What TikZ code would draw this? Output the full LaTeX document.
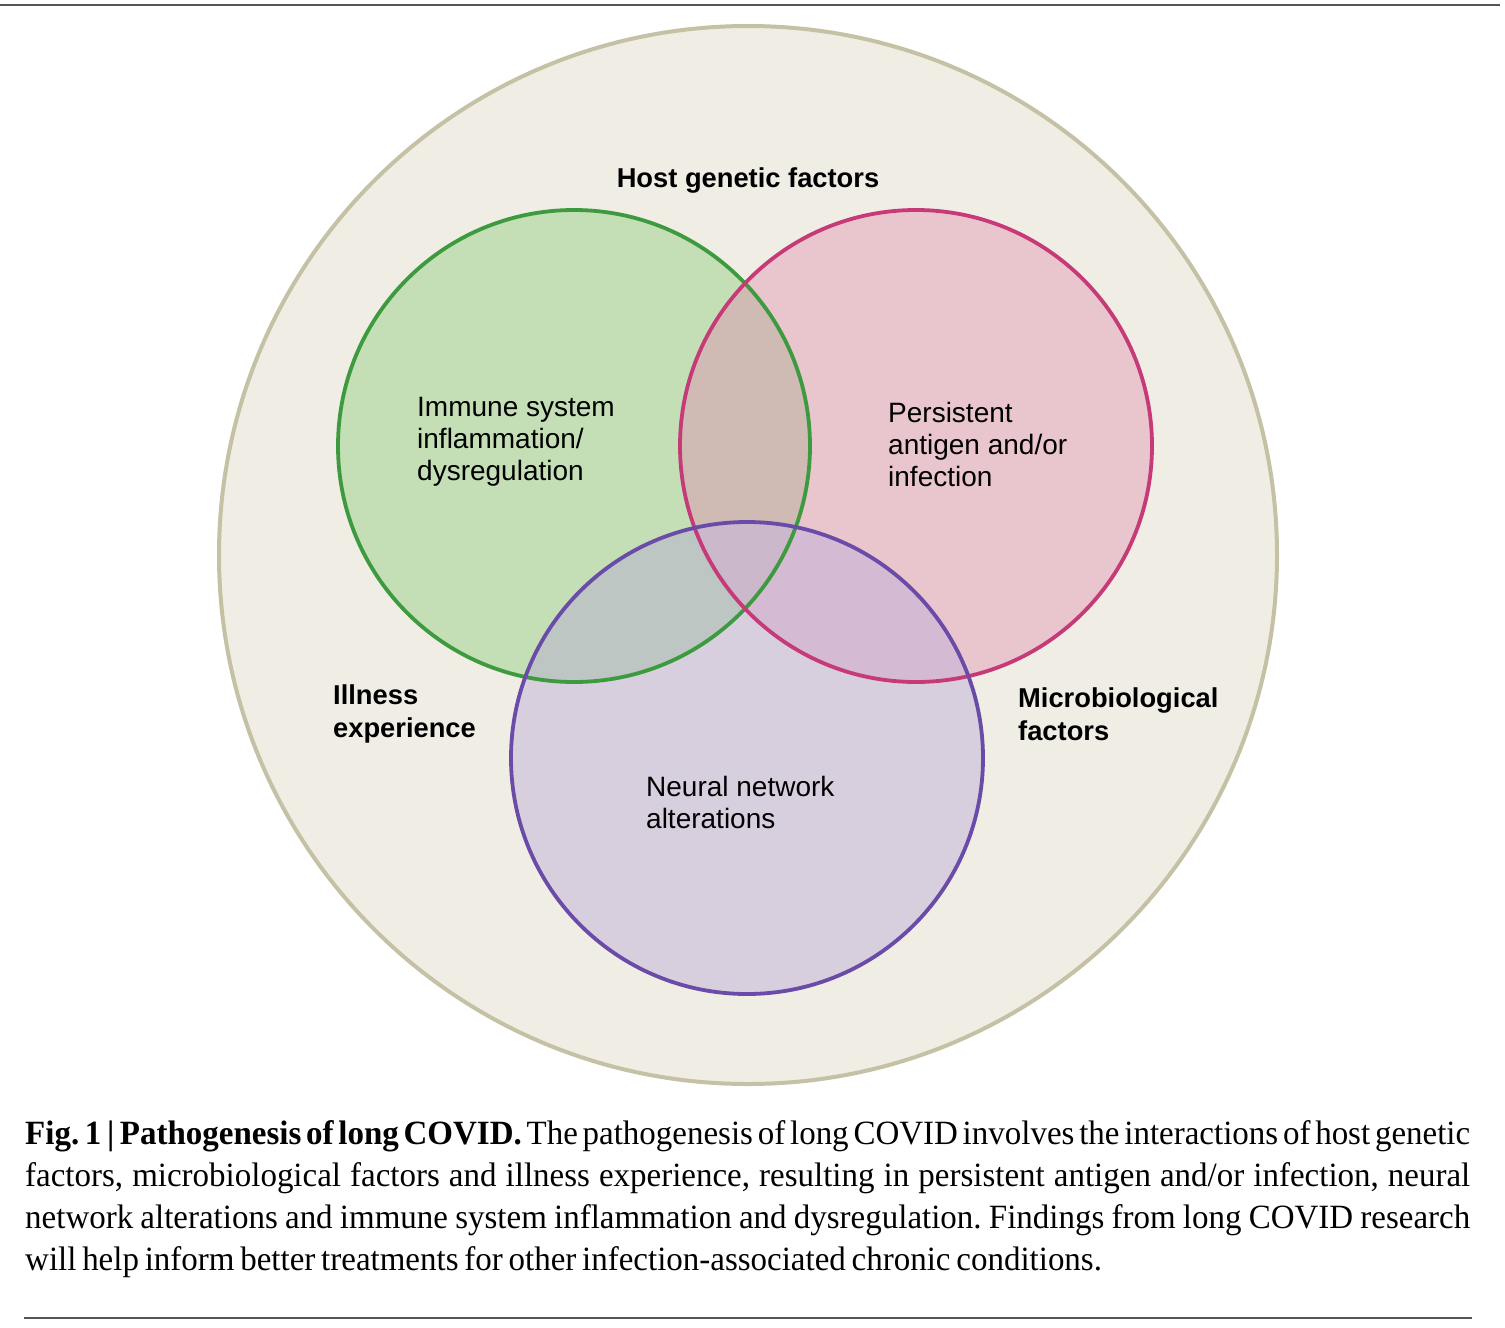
\documentclass[tikz,border=0pt]{standalone}
\usepackage{fontspec}
\setmainfont{Liberation Serif}[FakeStretch=0.97, WordSpace=0.7]
\setsansfont{Liberation Sans}
\definecolor{outerfill}{HTML}{F0EDE5}
\definecolor{outerline}{HTML}{C4C1A5}
\definecolor{greenfill}{HTML}{C4DEB6}
\definecolor{greenline}{HTML}{3E9A3E}
\definecolor{pinkfill}{HTML}{E9C6CD}
\definecolor{pinkline}{HTML}{C63A78}
\definecolor{purplefill}{HTML}{D8CFDE}
\definecolor{purpleline}{HTML}{6A4BA8}
\definecolor{gpfill}{HTML}{CFBBB4}
\definecolor{gvfill}{HTML}{BEC6C4}
\definecolor{pvfill}{HTML}{D5BAD4}
\definecolor{allfill}{HTML}{CBB8CB}
\definecolor{rulegray}{HTML}{555555}
\begin{document}
\begin{tikzpicture}[x=1pt,y=1pt,
  lab/.style={inner sep=0, align=left, font=\sffamily\fontsize{28}{32}\selectfont},
  boldlab/.style={lab, font=\sffamily\bfseries\fontsize{27.3}{33}\selectfont},
  ring/.style={line width=3.8pt}]
\useasboundingbox (0,0) rectangle (1505,-1328);
\coordinate (oc) at (748,-555);
\coordinate (gc) at (574,-446);
\coordinate (pc) at (916,-446);
\coordinate (vc) at (747,-758);

\draw[rulegray, line width=2.5pt] (0,-5) -- (1500,-5);

% outer circle
\draw[fill=outerfill, draw=outerline, line width=4pt] (oc) circle (529);

% fills
\fill[greenfill] (gc) circle (236);
\fill[pinkfill] (pc) circle (236);
\fill[purplefill] (vc) circle (236);
\begin{scope}
  \clip (gc) circle (236);
  \fill[gpfill] (pc) circle (236);
  \fill[gvfill] (vc) circle (236);
\end{scope}
\begin{scope}
  \clip (pc) circle (236);
  \fill[pvfill] (vc) circle (236);
\end{scope}
\begin{scope}
  \clip (gc) circle (236);
  \clip (pc) circle (236);
  \fill[allfill] (vc) circle (236);
\end{scope}

% rings
\draw[ring, greenline] (gc) circle (236);
\draw[ring, pinkline] (pc) circle (236);
\draw[ring, purpleline] (vc) circle (236);

\node[boldlab] (host) at (748,-180) {Host genetic factors};
\node[boldlab, anchor=west] (ill) at (333,-714) {Illness\\experience};
\node[boldlab, anchor=west] (micro) at (1018,-714) {Microbiological\\factors};
\node[lab, anchor=west] (immune) at (417,-442) {Immune system\\inflammation/\\dysregulation};
\node[lab, anchor=west] (antigen) at (888,-444) {Persistent\\antigen and/or\\infection};
\node[lab, anchor=west] (neural) at (646,-802) {Neural network\\alterations};

\node[anchor=north west, inner sep=0, text width=1445pt, align=justify,
  font=\frenchspacing\fontsize{34}{42}\selectfont] (caption) at (25,-1120)
  {\textbf{Fig.\,1\,|\,Pathogenesis of long COVID.} The pathogenesis of long COVID involves the interactions of host genetic\linebreak
  factors, microbiological factors and illness experience, resulting in persistent antigen and/or infection, neural\linebreak
  network alterations and immune system inflammation and dysregulation. Findings from long COVID research\linebreak
  will help inform better treatments for other infection-associated chronic conditions.};

\draw[rulegray, line width=2.5pt] (24,-1318) -- (1472,-1318);
\end{tikzpicture}
\end{document}
